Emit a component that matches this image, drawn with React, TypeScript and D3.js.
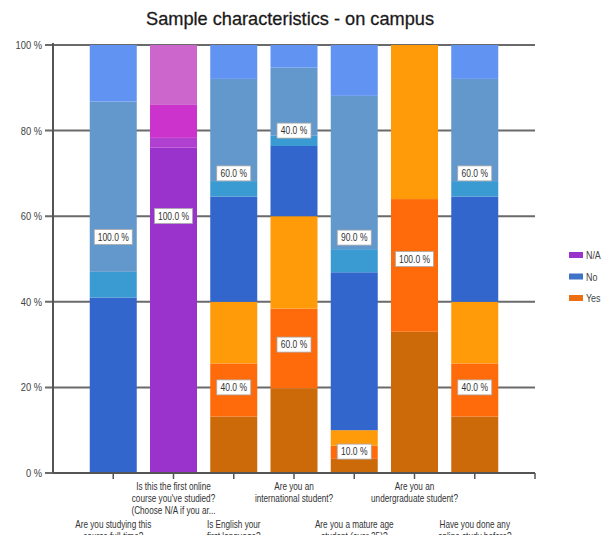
import React from "react";
import * as d3 from "d3";

// Survey questions (x categories), one stacked 100% column each
const questions: string[][] = [
  ["Are you studying this", "course full-time?"],
  ["Is this the first online", "course you've studied?", "(Choose N/A if you ar..."],
  ["Is English your", "first language?"],
  ["Are you an", "international student?"],
  ["Are you a mature age", "student (over 25)?"],
  ["Are you an", "undergraduate student?"],
  ["Have you done any", "online study before?"],
];

// Share of answers per question, in percent
const yesValues = [0, 0, 40, 60, 10, 100, 40];
const noValues = [100, 0, 60, 40, 90, 0, 60];
const naValues = [0, 100, 0, 0, 0, 0, 0];

const seriesKeys = ["Yes", "No", "N/A"];
const legendOrder = ["N/A", "No", "Yes"];
const yTicks = [0, 20, 40, 60, 80, 100];

// Glossy shading: each segment is split into bands (fraction of segment height, colour)
const shades: Record<string, [number, number, string][]> = {
  Yes: [
    [0, 0.33, "#cc6a0a"],
    [0.33, 0.64, "#ff6a0a"],
    [0.64, 1, "#ff9a08"],
  ],
  No: [
    [0, 0.41, "#3366cc"],
    [0.41, 0.47, "#3a9ad2"],
    [0.47, 0.868, "#6298cb"],
    [0.868, 1, "#6193f3"],
  ],
  "N/A": [
    [0, 0.76, "#9933cc"],
    [0.76, 0.783, "#b040d0"],
    [0.783, 0.86, "#cc33cc"],
    [0.86, 1, "#cc66cc"],
  ],
};
const legendColor: Record<string, string> = {
  "N/A": "#9933cc",
  No: "#3f73c8",
  Yes: "#ee6f10",
};

// Small nudges (in px) for value labels of the single-answer columns
const labelNudge = [-22, -43, 0, 0, 0, 0, 0];

const W = 613;
const H = 535;
const left = 53;
const right = 535;
const top = 45;
const bottom = 473;
const font = "'Liberation Sans', Arial, sans-serif";

export default function App() {
  const rows = questions.map((_, i) => ({
    i,
    Yes: yesValues[i],
    No: noValues[i],
    "N/A": naValues[i],
  }));
  const stacked = d3.stack<any>().keys(seriesKeys)(rows);

  const x = d3.scaleLinear().domain([0, questions.length + 1]).range([left, right]);
  const y = d3.scaleLinear().domain([0, 100]).range([bottom, top]);
  const barW = 47;

  return (
    <svg
      width={W}
      height={H}
      style={{ position: "absolute", left: 0, top: 0, background: "#fff" }}
      fontFamily={font}
    >
      <text
        x={290}
        y={25}
        fontSize={19}
        textAnchor="middle"
        fill="#1a1a1a"
        stroke="#1a1a1a"
        strokeWidth={0.3}
        textLength={288}
        lengthAdjust="spacingAndGlyphs"
      >
        Sample characteristics - on campus
      </text>

      {/* grid lines and y ticks */}
      {yTicks.map((t) => (
        <g key={t}>
          <line x1={45} x2={right} y1={y(t)} y2={y(t)} stroke="#6a6a6a" strokeWidth={2} />
          <text
            x={42}
            y={y(t) + 4}
            fontSize={11}
            textAnchor="end"
            fill="#444"
            transform={`translate(${42 * 0.15},0) scale(0.85,1)`}
          >
            {`${t} %`}
          </text>
        </g>
      ))}

      {/* bars */}
      {stacked.map((s) =>
        s.map((d, i) => {
          const v = d[1] - d[0];
          if (v <= 0) return null;
          return (
            <g key={s.key + i}>
              {shades[s.key].map(([f0, f1, c], k) => {
                const y0 = y(d[0] + v * f0);
                const y1 = y(d[0] + v * f1);
                return (
                  <rect
                    key={k}
                    x={x(i + 1) - barW / 2}
                    y={y1}
                    width={barW}
                    height={y0 - y1}
                    fill={c}
                  />
                );
              })}
            </g>
          );
        })
      )}

      {/* axes */}
      <line x1={left} x2={left} y1={top - 2} y2={bottom} stroke="#555" strokeWidth={2} />
      <line x1={left} x2={right} y1={bottom} y2={bottom} stroke="#555" strokeWidth={2} />
      {d3.range(1, questions.length + 2).map((k) => (
        <line key={k} x1={x(k)} x2={x(k)} y1={bottom} y2={bottom + 6} stroke="#555" strokeWidth={1.5} />
      ))}

      {/* value labels */}
      {stacked.map((s) =>
        s.map((d, i) => {
          const v = d[1] - d[0];
          if (v <= 0) return null;
          const cy = y((d[0] + d[1]) / 2) + (v === 100 ? labelNudge[i] : 0);
          const txt = `${v.toFixed(1)} %`;
          const bw = v === 100 ? 38 : 34;
          return (
            <g key={"l" + s.key + i} transform={`translate(${x(i + 1)},${cy})`}>
              <rect x={-bw / 2} y={-7.5} width={bw} height={15} fill="#fff" stroke="#aaa" strokeWidth={0.8} />
              <text y={3.5} fontSize={10} textAnchor="middle" fill="#333" transform="scale(0.85,1)">
                {txt}
              </text>
            </g>
          );
        })
      )}

      {/* category labels, alternating rows */}
      {questions.map((lines, i) => {
        const y0 = i % 2 === 1 ? 490 : 528;
        return (
          <g key={"q" + i} transform={`translate(${x(i + 1)},0)`}>
            {lines.map((ln, k) => (
              <text
                key={k}
                y={y0 + k * 12}
                fontSize={10}
                textAnchor="middle"
                fill="#333"
                transform="scale(0.82,1)"
              >
                {ln}
              </text>
            ))}
          </g>
        );
      })}

      {/* legend */}
      {legendOrder.map((k, j) => (
        <g key={k} transform={`translate(569,${255 + j * 21.5})`}>
          <rect x={0} y={-3} width={14} height={6} fill={legendColor[k]} />
          <text x={17} y={4} fontSize={10.5} fill="#444" transform="translate(2.5,0) scale(0.85,1)">
            {k}
          </text>
        </g>
      ))}
    </svg>
  );
}
